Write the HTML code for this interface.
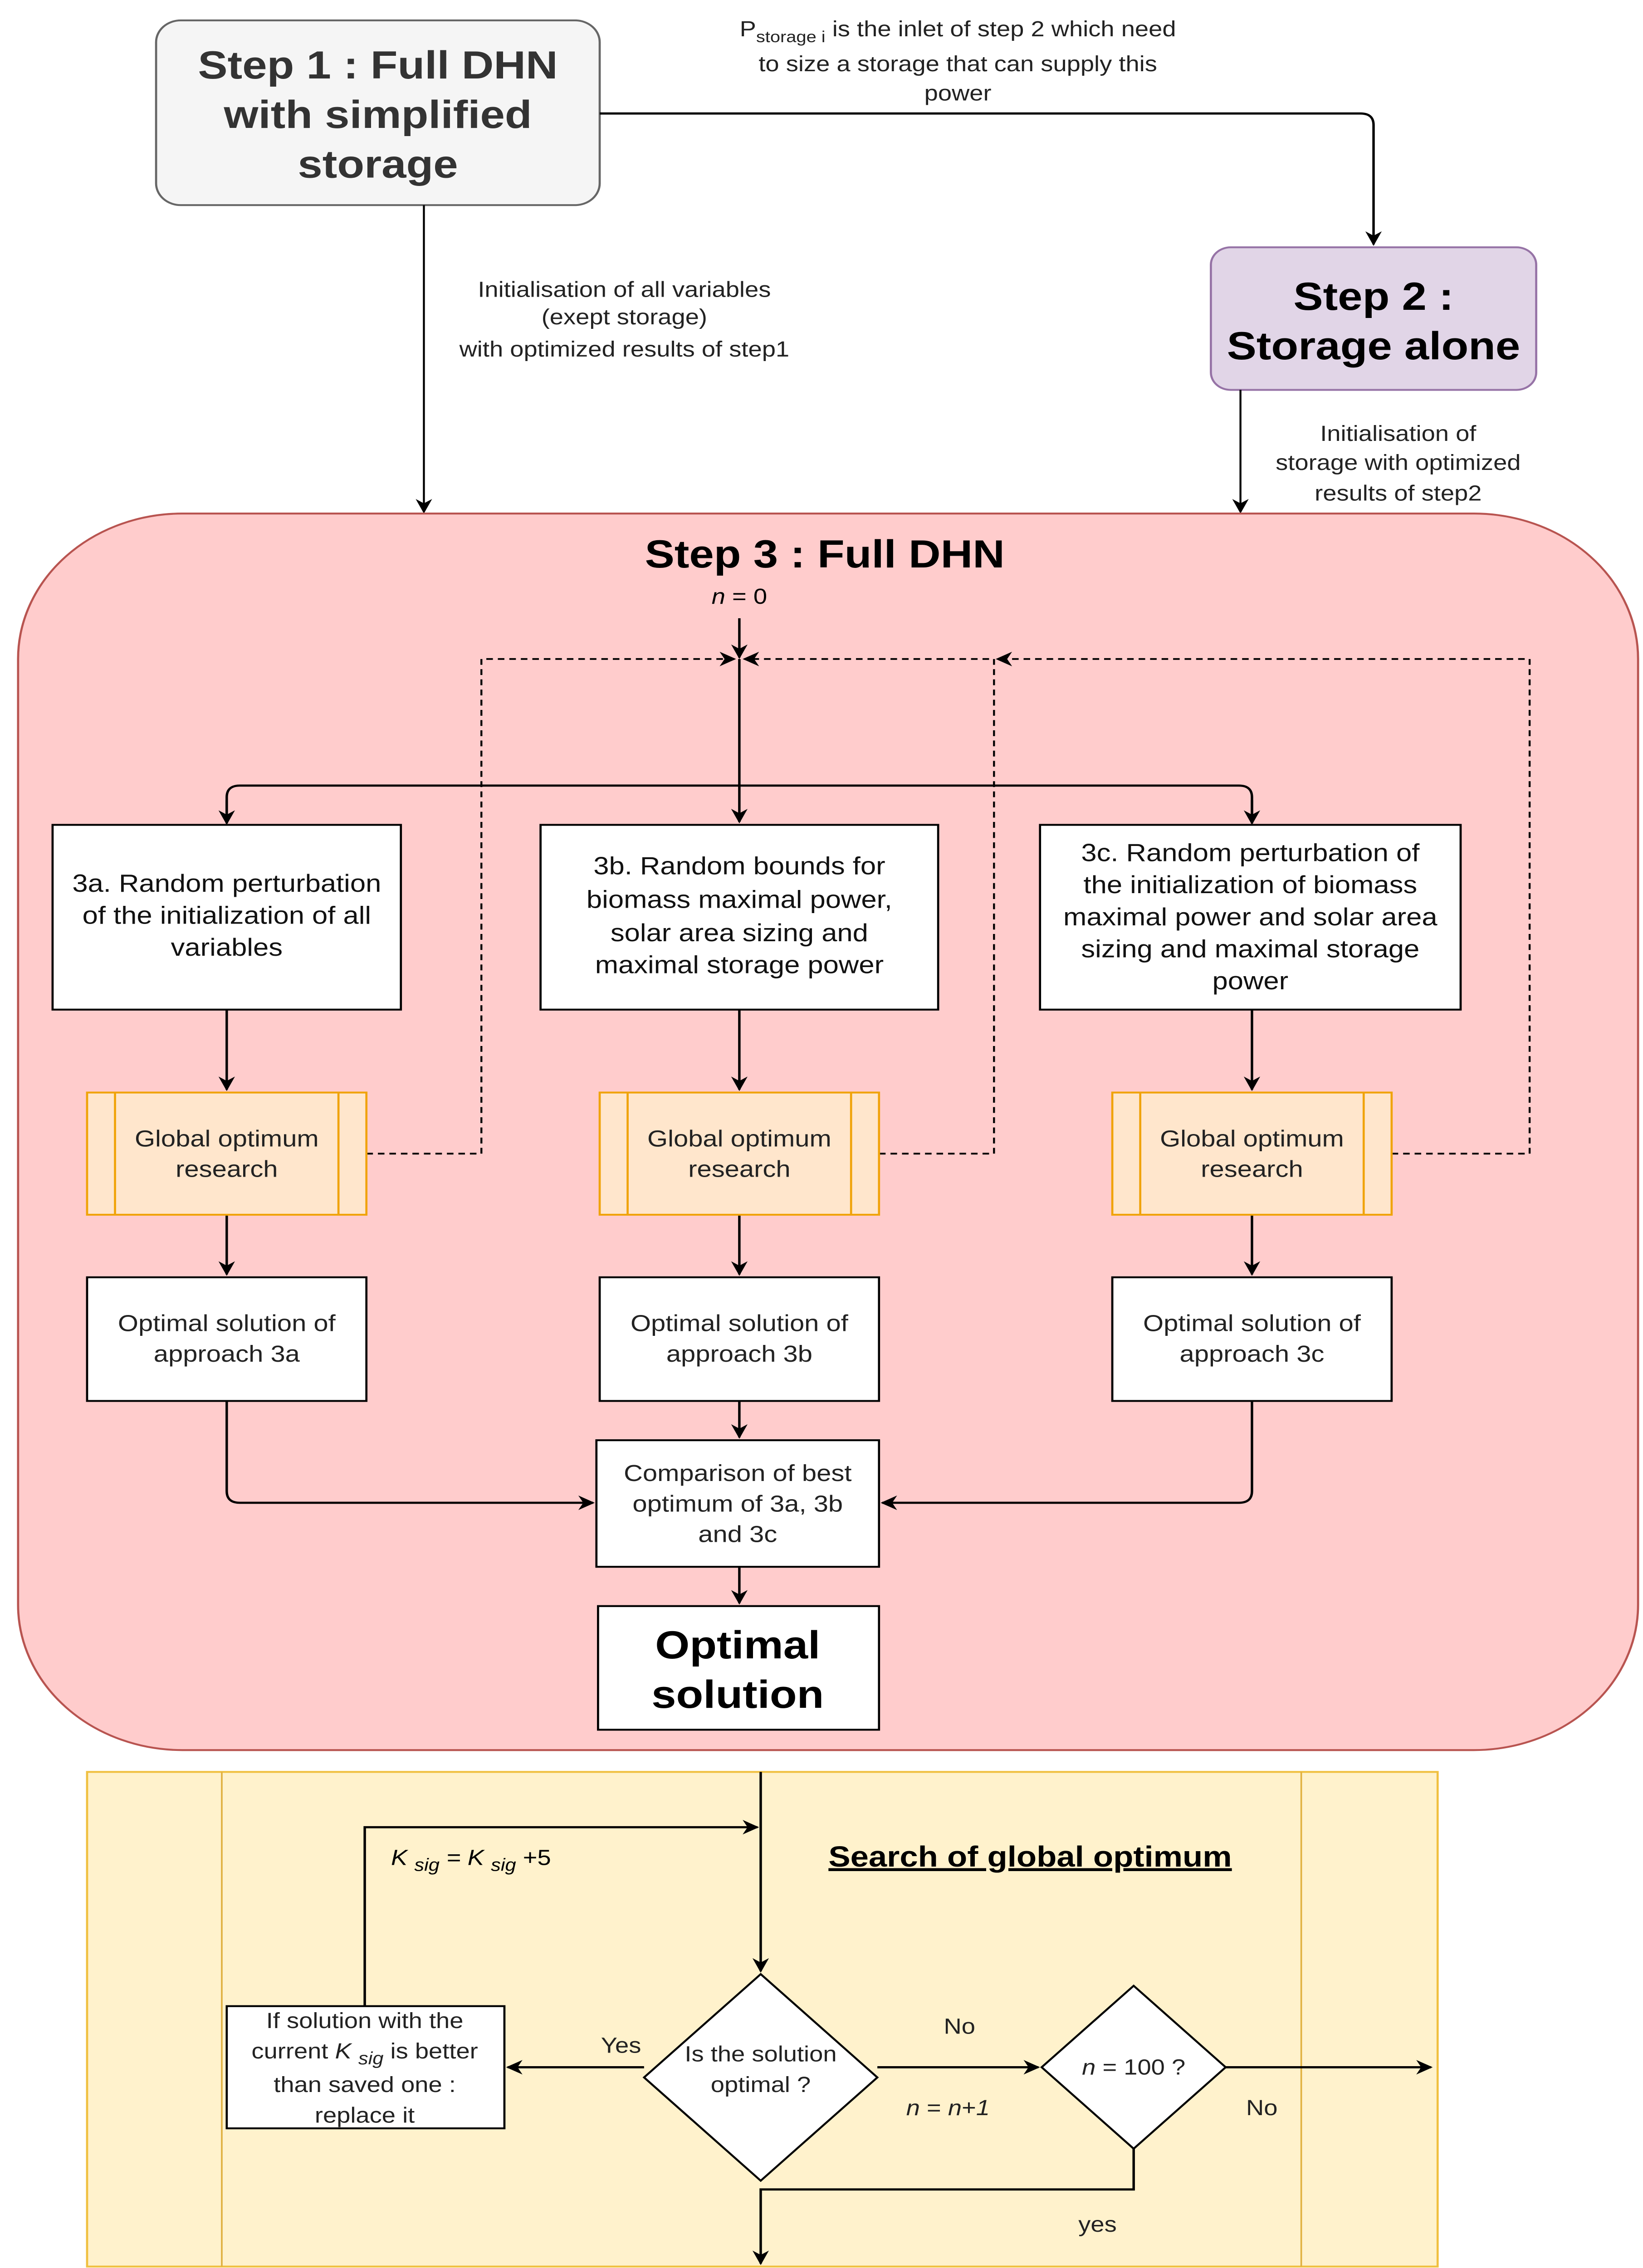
<!DOCTYPE html>
<html><head><meta charset="utf-8"><style>html,body{margin:0;padding:0;background:#fff;overflow:hidden}svg{display:block;position:fixed;left:0;top:0;width:100vw;height:100vh}</style></head>
<body>
<svg viewBox="0 0 1000 1559" preserveAspectRatio="none" xmlns="http://www.w3.org/2000/svg" font-family="Liberation Sans, sans-serif">
<defs>
<marker id="a" markerWidth="10" markerHeight="10" refX="9" refY="5" orient="auto" markerUnits="userSpaceOnUse"><path d="M0,0 L10,5 L0,10 L3,5 z" fill="#000"/></marker>
</defs>
<rect width="1000" height="1559" fill="#fff"/>
<rect x="95" y="14" width="270" height="127" rx="15" fill="#f5f5f5" stroke="#666" stroke-width="1.3"/>
<g font-size="27" font-weight="bold" text-anchor="middle" fill="#333">
<text x="230" y="54">Step 1 : Full DHN</text>
<text x="230" y="88">with simplified</text>
<text x="230" y="122">storage</text>
</g>
<path d="M365,78 H828 Q836,78 836,86 V168" fill="none" stroke="#000" stroke-width="1.5" marker-end="url(#a)"/>
<g font-size="15" text-anchor="middle" fill="#222">
<text x="583" y="25">P<tspan font-size="11" dy="4">storage i</tspan><tspan dy="-4"> is the inlet of step 2 which need</tspan></text>
<text x="583" y="49">to size a storage that can supply this</text>
<text x="583" y="69">power</text>
</g>
<rect x="737" y="170" width="198" height="98" rx="12" fill="#e1d5e7" stroke="#9673a6" stroke-width="1.3"/>
<g font-size="27" font-weight="bold" text-anchor="middle" fill="#000">
<text x="836" y="213">Step 2 :</text>
<text x="836" y="247">Storage alone</text>
</g>
<path d="M258,141 V352" stroke="#000" stroke-width="1.2" fill="none" marker-end="url(#a)"/>
<g font-size="15" text-anchor="middle" fill="#222">
<text x="380" y="204">Initialisation of all variables</text>
<text x="380" y="223">(exept storage)</text>
<text x="380" y="245">with optimized results of step1</text>
</g>
<path d="M755,268 V352" stroke="#000" stroke-width="1.2" fill="none" marker-end="url(#a)"/>
<g font-size="15" text-anchor="middle" fill="#222">
<text x="851" y="303">Initialisation of</text>
<text x="851" y="323">storage with optimized</text>
<text x="851" y="344">results of step2</text>
</g>
<rect x="11" y="353" width="986" height="850" rx="100" fill="#ffcccc" stroke="#b85450" stroke-width="1.3"/>
<text x="502" y="390" font-size="27" font-weight="bold" text-anchor="middle">Step 3 : Full DHN</text>
<text x="450" y="415" font-size="15" text-anchor="middle"><tspan font-style="italic">n</tspan> = 0</text>
<path d="M450,425 V452" stroke="#000" stroke-width="1.5" fill="none" marker-end="url(#a)"/>
<path d="M450,453 V565" stroke="#000" stroke-width="1.5" fill="none" marker-end="url(#a)"/>
<path d="M138,565 V548 Q138,540 146,540 H754 Q762,540 762,548 V565" stroke="#000" stroke-width="1.5" fill="none"/>
<path d="M138,550 V566" stroke="#000" stroke-width="1.5" marker-end="url(#a)"/>
<path d="M762,550 V566" stroke="#000" stroke-width="1.5" marker-end="url(#a)"/>
<g stroke="#000" stroke-width="1.2" stroke-dasharray="4,3" fill="none">
<path d="M223,793 H293 V453 H447" marker-end="url(#a)"/>
<path d="M535,793 H605 V453 H453" marker-end="url(#a)"/>
<path d="M847,793 H931 V453 H607" marker-end="url(#a)"/>
</g>
<g fill="#fff" stroke="#000" stroke-width="1.3">
<rect x="32" y="567" width="212" height="127"/>
<rect x="329" y="567" width="242" height="127"/>
<rect x="633" y="567" width="256" height="127"/>
</g>
<g font-size="17" text-anchor="middle" fill="#111">
<text x="138" y="613">3a. Random perturbation</text>
<text x="138" y="635">of the initialization of all</text>
<text x="138" y="657">variables</text>
<text x="450" y="601">3b. Random bounds for</text>
<text x="450" y="624">biomass maximal power,</text>
<text x="450" y="647">solar area sizing and</text>
<text x="450" y="669">maximal storage power</text>
<text x="761" y="592">3c. Random perturbation of</text>
<text x="761" y="614">the initialization of biomass</text>
<text x="761" y="636">maximal power and solar area</text>
<text x="761" y="658">sizing and maximal storage</text>
<text x="761" y="680">power</text>
</g>
<g stroke="#000" stroke-width="1.5" fill="none">
<path d="M138,694 V749" marker-end="url(#a)"/>
<path d="M450,694 V749" marker-end="url(#a)"/>
<path d="M762,694 V749" marker-end="url(#a)"/>
<path d="M138,835 V876" marker-end="url(#a)"/>
<path d="M450,835 V876" marker-end="url(#a)"/>
<path d="M762,835 V876" marker-end="url(#a)"/>
<path d="M450,963 V988" marker-end="url(#a)"/>
<path d="M138,963 V1025 Q138,1033 146,1033 H361" marker-end="url(#a)"/>
<path d="M762,963 V1025 Q762,1033 754,1033 H537" marker-end="url(#a)"/>
<path d="M450,1077 V1102" marker-end="url(#a)"/>
</g>
<g fill="#ffe6cc" stroke="#f0a30a" stroke-width="1.3">
<rect x="53" y="751" width="170" height="84"/><path d="M70,751 V835 M206,751 V835"/>
<rect x="365" y="751" width="170" height="84"/><path d="M382,751 V835 M518,751 V835"/>
<rect x="677" y="751" width="170" height="84"/><path d="M694,751 V835 M830,751 V835"/>
</g>
<g font-size="16" text-anchor="middle" fill="#222">
<text x="138" y="788">Global optimum</text><text x="138" y="809">research</text>
<text x="450" y="788">Global optimum</text><text x="450" y="809">research</text>
<text x="762" y="788">Global optimum</text><text x="762" y="809">research</text>
</g>
<g fill="#fff" stroke="#000" stroke-width="1.3">
<rect x="53" y="878" width="170" height="85"/>
<rect x="365" y="878" width="170" height="85"/>
<rect x="677" y="878" width="170" height="85"/>
<rect x="363" y="990" width="172" height="87"/>
<rect x="364" y="1104" width="171" height="85"/>
</g>
<g font-size="16" text-anchor="middle" fill="#222">
<text x="138" y="915">Optimal solution of</text><text x="138" y="936">approach 3a</text>
<text x="450" y="915">Optimal solution of</text><text x="450" y="936">approach 3b</text>
<text x="762" y="915">Optimal solution of</text><text x="762" y="936">approach 3c</text>
<text x="449" y="1018">Comparison of best</text><text x="449" y="1039">optimum of 3a, 3b</text><text x="449" y="1060">and 3c</text>
</g>
<g font-size="27" font-weight="bold" text-anchor="middle">
<text x="449" y="1140">Optimal</text><text x="449" y="1174">solution</text>
</g>
<rect x="53" y="1218" width="822" height="340" fill="#fff2cc" stroke="#f0c040" stroke-width="1.3"/>
<path d="M135,1218 V1558 M792,1218 V1558" stroke="#e0b040" stroke-width="1"/>
<text x="627" y="1283" font-size="20" font-weight="bold" text-anchor="middle" text-decoration="underline">Search of global optimum</text>
<g stroke="#000" stroke-width="1.5" fill="none">
<path d="M463,1218 V1355" marker-end="url(#a)"/>
<path d="M222,1379 V1256 H461" marker-end="url(#a)"/>
<path d="M392,1421 H309" marker-end="url(#a)"/>
<path d="M534,1421 H632" marker-end="url(#a)"/>
<path d="M746,1421 H871" marker-end="url(#a)"/>
<path d="M690,1477 V1505 H463 V1556" marker-end="url(#a)"/>
</g>
<text x="238" y="1282" font-size="15" font-style="italic">K <tspan font-size="12" dy="4">sig</tspan><tspan dy="-4"> = K </tspan><tspan font-size="12" dy="4">sig</tspan><tspan dy="-4" font-style="normal"> +5</tspan></text>
<path d="M463,1357 L534,1428 L463,1499 L392,1428 Z" fill="#fff" stroke="#000" stroke-width="1.3"/>
<path d="M690,1365 L746,1421 L690,1477 L634,1421 Z" fill="#fff" stroke="#000" stroke-width="1.3"/>
<rect x="138" y="1379" width="169" height="84" fill="#fff" stroke="#000" stroke-width="1.3"/>
<g font-size="15" text-anchor="middle" fill="#222">
<text x="463" y="1417">Is the solution</text><text x="463" y="1438">optimal ?</text>
<text x="690" y="1426"><tspan font-style="italic">n</tspan> = 100 ?</text>
<text x="222" y="1394">If solution with the</text>
<text x="222" y="1415">current <tspan font-style="italic">K</tspan> <tspan font-style="italic" font-size="12" dy="4">sig</tspan><tspan dy="-4"> is better</tspan></text>
<text x="222" y="1438">than saved one :</text>
<text x="222" y="1459">replace it</text>
<text x="378" y="1411">Yes</text>
<text x="584" y="1398">No</text>
<text x="577" y="1454"><tspan font-style="italic">n</tspan> = <tspan font-style="italic">n</tspan>+<tspan font-style="italic">1</tspan></text>
<text x="768" y="1454">No</text>
<text x="668" y="1534">yes</text>
</g>
</svg>
</body></html>
